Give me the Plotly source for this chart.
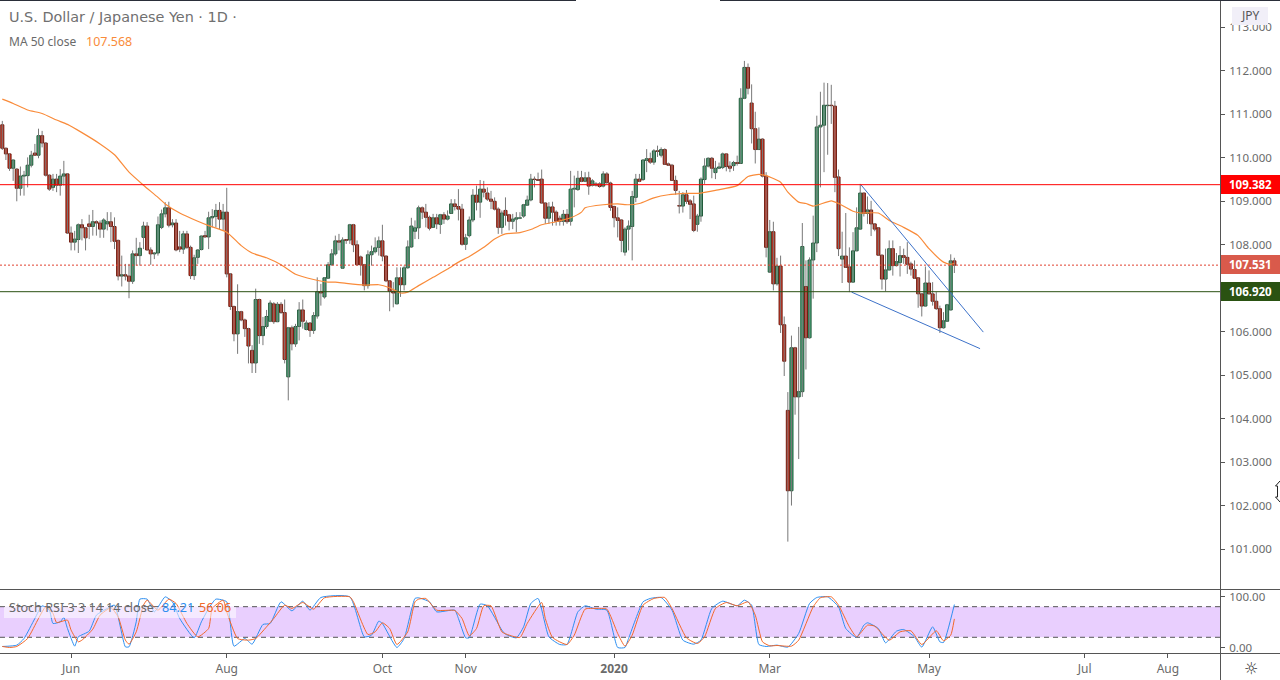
import plotly.graph_objects as go

opens = [110.76,110.22,110.09,109.76,109.74,109.30,109.58,109.59,109.83,110.11,110.06,110.51,110.34,109.60,109.32,109.51,109.37,109.58,109.63,108.27,
108.06,108.12,108.46,108.39,108.48,108.42,108.53,108.50,108.36,108.48,108.53,108.42,108.10,107.28,107.31,107.28,107.16,107.79,107.75,108.17,
108.43,107.88,107.79,107.81,108.40,108.71,108.85,108.46,108.50,107.95,107.90,108.25,107.94,107.29,107.71,107.89,108.21,108.18,108.62,108.65,
108.79,108.59,108.75,107.33,106.58,105.95,106.46,106.27,106.07,105.57,105.28,106.74,105.91,106.12,106.24,106.64,106.23,106.63,106.44,104.96,
106.09,105.72,106.12,106.50,106.05,106.20,106.03,106.36,106.92,106.80,107.23,107.54,107.79,108.09,107.46,108.12,108.11,108.46,108.00,107.72,
107.54,107.06,107.77,107.84,107.94,108.09,107.74,107.17,106.93,106.64,107.24,107.08,107.47,107.95,108.31,108.39,108.85,108.75,108.63,108.40,
108.62,108.47,108.69,108.59,108.72,108.94,108.88,108.82,108.01,108.21,108.57,109.14,108.98,109.28,109.19,109.05,109.00,108.82,108.40,108.79,
108.69,108.54,108.59,108.61,108.66,108.91,109.03,109.51,109.50,109.51,108.96,108.61,108.87,108.75,108.61,108.54,108.70,108.54,109.28,109.27,
109.54,109.46,109.54,109.37,109.40,109.40,109.35,109.63,109.42,108.88,108.62,108.57,107.83,108.36,108.42,109.09,109.51,109.50,109.94,109.98,
109.90,110.16,110.06,110.19,109.86,109.83,109.48,108.90,108.89,109.15,109.01,108.94,108.47,108.66,109.50,109.81,109.99,109.66,109.76,109.78,
110.09,109.81,109.82,109.89,109.87,111.37,112.08,111.26,110.67,110.19,110.43,109.58,107.37,108.30,107.10,107.51,106.16,104.19,102.34,105.63,
104.50,104.62,107.04,105.86,107.65,108.04,110.71,110.75,111.20,111.21,111.19,109.56,107.67,107.74,107.49,107.14,107.86,108.36,109.19,108.72,
108.80,108.48,108.39,107.76,107.21,107.42,107.91,107.52,107.59,107.75,107.71,107.56,107.43,107.24,106.87,106.59,107.12,106.87,106.70,106.53,
106.09,106.24,106.50,107.63]
highs = [110.85,110.24,110.10,109.96,109.76,109.80,109.70,110.01,110.16,110.32,110.67,110.62,110.36,109.62,109.63,109.63,109.74,109.93,109.65,108.42,
108.32,108.49,108.59,108.41,108.69,108.80,108.56,108.56,108.61,108.75,108.75,108.63,108.12,107.75,107.56,107.56,107.87,108.16,108.06,108.53,
108.52,107.94,107.83,108.65,108.81,108.98,108.99,108.59,108.59,108.32,108.32,108.32,107.98,107.77,107.90,108.21,108.32,108.76,108.82,108.94,
108.98,108.94,109.31,107.35,106.60,107.09,106.48,106.30,106.09,105.69,106.99,106.76,106.34,106.50,106.72,106.68,106.68,106.68,106.74,106.11,
106.14,106.18,106.68,106.74,106.26,106.22,106.45,107.25,107.10,107.25,107.60,107.90,108.21,108.25,108.17,108.13,108.48,108.48,108.10,107.75,
107.56,107.87,107.98,108.17,108.19,108.46,107.75,107.18,107.14,107.48,107.48,107.52,108.10,108.62,108.56,108.90,108.88,108.94,108.67,108.71,
108.71,108.71,108.75,108.79,109.05,109.05,109.28,108.94,108.25,108.65,109.28,109.36,109.49,109.47,109.32,109.24,109.09,108.86,108.79,109.09,
108.71,108.71,108.75,108.75,108.94,109.13,109.63,109.57,109.66,109.73,108.98,108.98,108.99,108.79,108.67,108.80,108.82,109.70,109.59,109.70,
109.70,109.67,109.68,109.51,109.44,109.44,109.69,109.67,109.45,108.90,108.86,108.59,108.40,108.56,109.24,109.63,109.63,109.97,110.20,110.12,
110.20,110.28,110.24,110.22,109.89,109.86,109.59,109.24,109.21,109.26,109.05,109.13,108.71,109.55,109.99,110.01,110.02,109.93,109.89,110.12,
110.10,109.92,109.93,110.05,111.60,112.23,112.17,111.69,111.06,110.70,110.45,109.67,108.57,108.53,107.70,107.75,106.35,104.61,105.91,105.65,
106.11,108.50,107.64,107.71,108.67,110.97,111.52,111.73,111.72,111.68,111.31,109.73,108.30,108.73,107.94,108.29,108.86,109.40,109.20,109.11,
109.01,108.50,108.40,107.78,107.91,108.10,108.10,107.81,107.97,107.91,108.06,107.61,107.64,107.25,106.89,107.50,107.41,107.14,106.91,106.60,
106.45,106.64,107.78,107.70]
lows = [110.18,109.95,109.70,109.47,109.00,109.13,109.13,109.32,109.78,110.05,109.99,110.24,109.57,109.24,109.24,109.21,109.13,109.36,108.25,107.87,
107.87,107.81,108.10,107.87,108.13,108.21,108.21,108.16,108.16,108.33,108.06,107.90,107.18,107.04,107.18,106.77,107.10,107.52,107.52,107.90,
107.87,107.54,107.67,107.75,108.36,108.63,108.40,108.40,107.85,107.83,107.79,107.90,107.21,107.19,107.56,107.87,108.16,107.90,108.40,108.40,
108.36,108.33,107.25,106.50,105.78,105.49,106.24,105.88,105.27,105.05,105.05,105.72,105.69,106.07,106.22,106.18,106.22,106.41,105.27,104.42,
105.57,105.65,105.80,106.07,106.03,105.88,105.95,106.30,106.60,106.76,107.22,107.52,107.75,107.87,107.45,108.02,108.02,107.83,107.52,107.29,
106.95,106.99,107.52,107.80,107.75,107.62,107.14,106.47,106.56,106.63,106.80,106.95,107.45,107.93,108.13,108.13,108.59,108.40,108.33,108.39,
108.36,108.25,108.48,108.56,108.71,108.79,108.56,107.98,107.88,108.17,108.52,108.79,108.62,109.09,109.01,108.82,108.79,108.25,108.25,108.44,
108.33,108.36,108.29,108.59,108.62,108.90,109.00,109.32,109.47,108.95,108.48,108.48,108.44,108.44,108.44,108.44,108.48,108.44,108.86,109.24,
109.44,109.44,109.15,109.34,109.34,109.31,109.32,109.40,108.78,108.40,108.17,107.83,107.75,107.87,107.64,108.98,109.44,109.47,109.67,109.86,
109.84,110.02,110.01,109.84,109.82,109.47,109.15,108.72,108.74,108.94,108.59,108.29,108.30,108.53,109.40,109.78,109.53,109.51,109.74,109.74,
109.69,109.67,109.70,109.82,109.86,111.35,111.46,110.33,109.87,110.18,109.55,107.71,107.35,106.95,107.06,105.97,104.98,101.17,102.00,104.09,
103.07,104.50,105.13,105.84,106.76,107.83,109.32,109.67,110.07,110.78,109.21,107.74,107.12,107.47,106.91,107.13,107.85,108.35,108.65,108.48,
108.20,108.31,107.75,106.97,106.93,107.41,107.29,107.50,107.27,107.56,107.33,107.29,107.22,106.55,106.35,106.58,106.86,106.60,106.50,105.97,
106.07,106.23,106.49,107.35]
closes = [110.22,110.09,109.76,109.95,109.30,109.58,109.60,109.83,110.06,110.06,110.51,110.34,109.60,109.28,109.51,109.37,109.58,109.63,108.27,108.06,
108.13,108.46,108.39,108.16,108.42,108.53,108.50,108.36,108.57,108.53,108.42,108.08,107.28,107.31,107.28,107.16,107.79,107.75,107.92,108.43,
107.88,107.79,107.81,108.46,108.71,108.85,108.45,108.50,107.88,107.90,108.25,107.94,107.29,107.70,107.88,108.20,108.18,108.62,108.65,108.79,
108.59,108.75,107.33,106.58,105.95,106.46,106.27,106.07,105.67,105.28,106.74,105.91,106.12,106.35,106.66,106.23,106.63,106.44,105.36,106.09,
105.72,106.12,106.50,106.24,106.20,106.03,106.37,106.92,106.89,107.24,107.54,107.79,108.09,108.06,108.11,108.10,108.46,108.00,107.54,107.54,
107.06,107.77,107.84,107.93,108.09,107.74,107.17,106.93,106.89,107.24,107.08,107.47,107.95,108.43,108.39,108.85,108.75,108.63,108.38,108.62,
108.48,108.69,108.59,108.66,108.94,108.88,108.82,108.01,108.16,108.57,109.14,108.98,109.28,109.21,109.05,109.00,108.82,108.40,108.73,108.68,
108.54,108.59,108.62,108.62,108.92,109.03,109.51,109.50,109.48,108.96,108.61,108.87,108.75,108.54,108.54,108.70,108.53,109.28,109.30,109.53,
109.46,109.54,109.35,109.47,109.37,109.34,109.63,109.43,108.86,108.62,108.56,108.10,108.36,108.43,109.11,109.51,109.46,109.95,109.98,109.90,
110.16,110.15,110.19,109.85,109.83,109.48,109.25,108.89,109.15,109.00,108.93,108.33,108.66,109.51,109.81,109.99,109.76,109.76,109.79,110.09,
109.80,109.76,109.89,109.87,111.37,112.08,111.60,110.67,110.19,110.43,109.58,107.94,108.30,107.10,107.51,106.16,105.32,102.34,105.63,104.50,
104.62,107.96,105.86,107.65,108.04,110.71,110.75,111.21,111.21,111.20,109.55,107.91,107.74,107.48,107.14,107.86,108.39,109.19,108.72,108.80,
108.48,108.36,107.76,107.21,107.42,107.91,107.52,107.61,107.75,107.71,107.55,107.44,107.23,106.87,106.59,107.12,106.87,106.70,106.53,106.09,
106.25,106.62,107.63,107.53]

ma_bar = [1,4,8,12,16,19,23,28,32,36,40,44,46,50,55,58,63,67,70,74,78,82,87,91,93,96,101,105,108,111,113,116,120,124,127,130,134,137,140,144,147,150,154,158,161,162,167,171,174,177,181,185,190,194,198,204,207,210,212,216,218,221,223,225,230,232,236,238,243,246,250,254,257,261,263,264]
ma_val = [111.35,111.25,111.10,111.02,110.87,110.77,110.58,110.32,110.07,109.67,109.37,109.09,108.94,108.73,108.54,108.44,108.29,107.98,107.81,107.70,107.54,107.32,107.20,107.14,107.14,107.11,107.07,107.08,107.01,106.89,106.91,107.06,107.25,107.44,107.60,107.73,107.94,108.13,108.25,108.28,108.35,108.46,108.53,108.62,108.75,108.85,108.92,108.94,108.92,108.95,109.08,109.15,109.18,109.19,109.25,109.36,109.57,109.62,109.59,109.44,109.21,108.98,108.95,108.89,109.01,108.95,108.77,108.73,108.73,108.56,108.40,108.21,107.91,107.60,107.55,107.568]

k_bar = [1,5,7,10,12,14,15,17,18,19,21,22,25,27,30,32,35,36,38,39,41,43,46,48,50,54,56,58,60,63,65,68,70,73,75,78,81,84,86,89,97,101,103,105,106,110,112,115,116,119,121,126,127,129,130,133,135,139,140,143,145,147,149,152,155,157,160,162,165,168,171,173,174,178,180,183,186,189,192,194,197,200,204,206,208,210,212,215,218,221,224,226,229,232,234,237,239,240,243,245,248,250,253,255,258,260,261,264]
k_val = [2.0,4.6,17.6,56.9,81.7,73.2,47.1,50.3,58.8,37.3,2.6,20.9,32.0,63.4,76.5,83.0,1.3,1.3,50.3,94.8,94.8,69.9,99.3,89.5,56.9,19.0,50.3,76.5,94.8,89.5,2.6,17.6,6.5,45.1,47.1,89.5,71.9,90.8,73.2,98.0,99.3,20.9,24.2,51.6,47.1,0.0,17.6,96.1,97.4,89.5,69.9,73.2,56.9,19.0,19.0,85.0,81.7,34.0,26.1,19.0,40.5,86.3,96.1,20.9,5.9,5.9,69.9,81.7,75.2,73.2,0.0,0.0,17.6,89.5,96.1,98.0,73.2,14.4,6.5,14.4,76.5,90.8,81.7,92.8,83.0,5.9,2.0,4.6,0.7,27.5,86.3,98.0,99.3,79.7,37.3,19.6,43.8,48.4,37.3,9.2,32.0,35.3,20.9,0.7,40.5,11.1,9.8,84.21]
d_bar = [1,3,5,8,11,13,15,16,19,20,22,23,26,28,31,33,35,36,38,40,41,44,47,49,52,55,58,59,62,63,66,69,71,74,76,79,81,84,87,90,97,98,102,104,106,108,110,113,115,116,118,121,126,128,130,132,134,136,139,141,144,146,150,151,153,157,159,162,165,168,171,173,175,178,181,184,186,190,193,195,198,201,204,207,209,211,213,215,219,221,225,227,230,232,235,237,240,242,246,249,252,255,259,261,263,264]
d_val = [2.0,0.0,2.0,17.6,56.9,79.7,66.7,49.0,53.6,34.0,11.1,14.4,35.9,63.4,77.8,60.1,14.4,6.5,30.7,83.0,92.8,73.2,94.8,86.3,47.1,20.9,37.3,76.5,92.8,69.9,17.6,14.4,17.6,40.5,56.9,83.0,76.5,88.2,75.2,97.4,99.3,89.5,25.5,30.7,48.4,37.3,5.9,30.7,89.5,94.8,96.1,73.2,72.5,56.9,22.9,37.3,81.7,81.7,30.7,24.2,19.6,47.1,88.2,56.9,19.6,5.9,24.2,75.2,76.5,75.2,27.5,2.6,24.2,83.0,96.1,98.0,76.5,19.0,7.8,20.9,76.5,88.2,81.7,89.5,63.4,11.1,3.3,3.9,2.6,14.4,79.7,97.4,99.3,83.0,40.5,20.9,43.8,41.8,14.4,30.7,32.7,5.9,32.7,13.1,24.2,56.06]

wedge_bar_a = [238.2,272.0]
wedge_val_a = [109.38,105.99]
wedge_bar_b = [235.6,271.1]
wedge_val_b = [106.91,105.61]

level_top = 109.382
level_last = 107.531
level_low = 106.920

price_ticks = [101,102,103,104,105,106,108,109,110,111,112,113]
price_tick_labels = ["101.000","102.000","103.000","104.000","105.000","106.000","108.000","109.000","110.000","111.000","112.000","113.000"]
date_ticks = [20,63,106,129,170,213,257,300,323]
date_labels = ["Jun","Aug","Oct","Nov","<b>2020</b>","Mar","May","Jul","Aug"]

bars = list(range(1, len(closes) + 1))
W, H = 1280, 680
GREY = "#6a6a6a"
FONT = "Noto Sans"

fig = go.Figure()

# wicks
wx, wy = [], []
for b, hi, lo in zip(bars, highs, lows):
    wx += [b, b, None]
    wy += [lo, hi, None]
fig.add_trace(go.Scatter(x=wx, y=wy, mode="lines", line=dict(color="#787878", width=1), hoverinfo="skip", xaxis="x", yaxis="y"))

# bodies
for want_up, fill, edge in [(True, "#46a877", "#215a3a"), (False, "#d8331f", "#6e1d10")]:
    idx = [i for i in range(len(closes)) if (closes[i] >= opens[i]) == want_up]
    fig.add_trace(go.Bar(
        x=[bars[i] for i in idx],
        y=[abs(closes[i] - opens[i]) for i in idx],
        base=[min(closes[i], opens[i]) for i in idx],
        width=0.85, marker=dict(color=fill, line=dict(color=edge, width=1)),
        hoverinfo="skip", xaxis="x", yaxis="y"))

fig.add_trace(go.Scatter(x=ma_bar, y=ma_val, mode="lines", line=dict(color="#f98b3a", width=1.2, shape="spline", smoothing=0.5), hoverinfo="skip", xaxis="x", yaxis="y"))
fig.add_trace(go.Scatter(x=wedge_bar_a, y=wedge_val_a, mode="lines", line=dict(color="#3d72c9", width=1), hoverinfo="skip", xaxis="x", yaxis="y"))
fig.add_trace(go.Scatter(x=wedge_bar_b, y=wedge_val_b, mode="lines", line=dict(color="#3d72c9", width=1), hoverinfo="skip", xaxis="x", yaxis="y"))

fig.add_trace(go.Scatter(x=k_bar, y=k_val, mode="lines", line=dict(color="#2e8ff0", width=1, shape="spline", smoothing=0.5), hoverinfo="skip", xaxis="x2", yaxis="y2"))
fig.add_trace(go.Scatter(x=d_bar, y=d_val, mode="lines", line=dict(color="#f2682a", width=1, shape="spline", smoothing=0.5), hoverinfo="skip", xaxis="x2", yaxis="y2"))

XMIN = 1 - 2.3 / 3.62
XMAX = 1 + (1220 - 2.3) / 3.62
def py(px):
    return 1 - px / H

shapes = [
    dict(type="line", xref="x", yref="y", x0=XMIN, x1=XMAX, y0=level_top, y1=level_top, line=dict(color="#ff0000", width=1)),
    dict(type="line", xref="x", yref="y", x0=XMIN, x1=XMAX, y0=level_last, y1=level_last, line=dict(color="#e0402f", width=1, dash="2px,2px")),
    dict(type="line", xref="x", yref="y", x0=XMIN, x1=XMAX, y0=level_low, y1=level_low, line=dict(color="#2b5012", width=1)),
    dict(type="rect", xref="x2", yref="y2", x0=XMIN, x1=XMAX, y0=20, y1=80, fillcolor="#e9cffe", line=dict(width=0), layer="below"),
    dict(type="line", xref="x2", yref="y2", x0=XMIN, x1=XMAX, y0=80, y1=80, line=dict(color="#555", width=1, dash="5px,4px"), layer="below"),
    dict(type="line", xref="x2", yref="y2", x0=XMIN, x1=XMAX, y0=20, y1=20, line=dict(color="#555", width=1, dash="5px,4px"), layer="below"),
    # pane frame
    dict(type="line", xref="paper", yref="paper", x0=0, x1=1, y0=py(589.5), y1=py(589.5), line=dict(color="#555", width=1)),
    dict(type="line", xref="paper", yref="paper", x0=0, x1=1, y0=py(653.5), y1=py(653.5), line=dict(color="#555", width=1)),
    dict(type="line", xref="paper", yref="paper", x0=1220.5 / W, x1=1220.5 / W, y0=0, y1=1, line=dict(color="#555", width=1)),
    dict(type="line", xref="paper", yref="paper", x0=0, x1=576 / W, y0=py(0.5), y1=py(0.5), line=dict(color="#2a2e39", width=1)),
    dict(type="line", xref="paper", yref="paper", x0=720 / W, x1=1, y0=py(0.5), y1=py(0.5), line=dict(color="#2a2e39", width=1)),
    # translucent strip behind indicator legend
    dict(type="rect", xref="paper", yref="paper", x0=4 / W, x1=236 / W, y0=py(618), y1=py(607), fillcolor="rgba(255,255,255,0.55)", line=dict(width=0)),
    # mouse pointer cut by the window edge
    dict(type="path", xref="paper", yref="paper", line=dict(color="#222", width=1),
         path=f"M {W/W} {py(481)} L {1275.5/W} {py(486)} L {1277.5/W} {py(486)} L {1277.5/W} {py(497)} L {1275.5/W} {py(497)} L {W/W} {py(502)}"),
]

def note(px, pyy, text, size=12, color=GREY, anchor="left", bg=None, font=FONT, valign="middle"):
    d = dict(xref="paper", yref="paper", x=px / W, y=py(pyy), text=text, showarrow=False,
             xanchor=anchor, yanchor=valign, font=dict(family=font, size=size, color=color), align=anchor, borderpad=0)
    if bg:
        d["bgcolor"] = bg
    return d

annotations = [
    note(8, 17, "U.S. Dollar / Japanese Yen · 1D ·", size=14.4, color="#707070", font="DejaVu Sans"),
    note(8, 41, "MA 50 close", size=12, color="#6a6a6a"),
    note(85, 41, "107.568", size=12.5, color="#f98b3a"),
    note(8, 607, "Stoch RSI 3 3 14 14 close", size=12.6, color="#6a6a6a"),
    note(161, 607, "84.21", size=12.6, color="#2e8ff0"),
    note(198, 607, "56.06", size=12.6, color="#f2682a"),
    note(1251, 668.5, "☼", size=16, color="#333", anchor="center", font="DejaVu Sans"),
]

# price tags drawn as filled rects plus text
for val_y, txt, colr in [(184.5, f"{level_top:.3f}", "#ff0000"), (264.5, f"{level_last:.3f}", "#d95a4b"), (291.5, f"{level_low:.3f}", "#2a5212")]:
    shapes.append(dict(type="rect", xref="paper", yref="paper", x0=1221 / W, x1=1 , y0=py(val_y + 9.5), y1=py(val_y - 9.5), fillcolor=colr, line=dict(width=0)))
    annotations.append(note(1250.5, val_y, f"<b>{txt}</b>", size=11.5, color="#ffffff", anchor="center"))

shapes.append(dict(type="rect", xref="paper", yref="paper", x0=1232 / W, x1=1268 / W, y0=py(25), y1=py(7), fillcolor="#f1eff8", line=dict(width=0)))
annotations.append(note(1250, 15.5, "JPY", size=12, color="#555", anchor="center"))

tick_font = dict(size=11.5, color=GREY, family=FONT)
fig.update_layout(
    width=W, height=H,
    margin=dict(l=0, r=0, t=0, b=0, autoexpand=False),
    paper_bgcolor="white", plot_bgcolor="white",
    showlegend=False, barmode="overlay", hovermode=False,
    bargap=0,
    font=dict(family=FONT, size=12, color=GREY),
    xaxis=dict(domain=[0, 1220 / W], range=[XMIN, XMAX], anchor="y", showticklabels=False, showgrid=False, zeroline=False, ticks=""),
    yaxis=dict(domain=[py(589), py(1)], range=[100.08, 113.608], side="right", anchor="x",
               tickmode="array", tickvals=price_ticks, ticktext=price_tick_labels, ticklabelstandoff=2,
               showgrid=False, zeroline=False, ticks="outside", ticklen=4, tickcolor="#555", tickfont=tick_font),
    xaxis2=dict(domain=[0, 1220 / W], range=[XMIN, XMAX], anchor="y2", matches="x",
                tickmode="array", tickvals=date_ticks, ticktext=date_labels,
                showgrid=False, zeroline=False, ticks="outside", ticklen=4, tickcolor="#555", tickfont=dict(size=12, color=GREY, family=FONT)),
    yaxis2=dict(domain=[py(653.3), py(589.7)], range=[-11.4, 113.3], side="right", anchor="x2",
                tickmode="array", tickvals=[0, 100], ticktext=["0.00", "100.00"], ticklabelstandoff=2,
                showgrid=False, zeroline=False, ticks="outside", ticklen=4, tickcolor="#555", tickfont=tick_font),
    shapes=shapes, annotations=annotations,
)

fig.write_html("out.html", config=dict(displayModeBar=False, staticPlot=True),
               post_script="document.body.style.margin='0';document.body.style.overflow='hidden';")
